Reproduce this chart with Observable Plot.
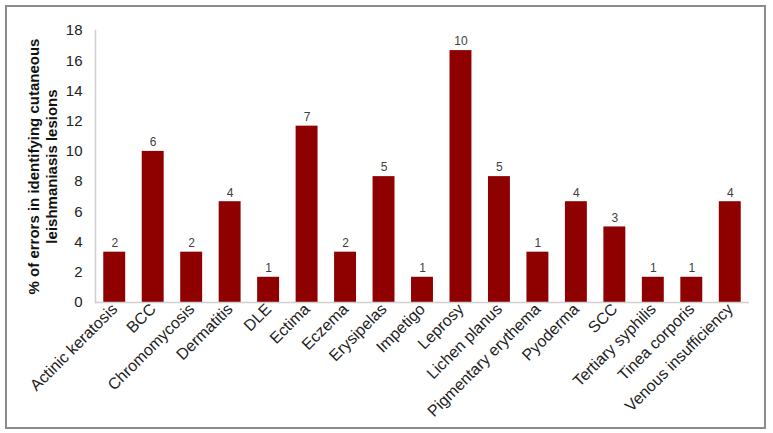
<!DOCTYPE html>
<html><head><meta charset="utf-8">
<script src="https://cdn.jsdelivr.net/npm/d3@7"></script>
<script src="https://cdn.jsdelivr.net/npm/@observablehq/plot@0.6"></script>
<style>
body{margin:0;background:#fff;}
#wrap{position:relative;width:773px;height:433px;}
#border{position:absolute;left:5px;top:5px;width:757px;height:420px;border:2px solid #8c8c8c;pointer-events:none;}
</style>
</head><body>
<div id="wrap"><div id="border"></div></div>
<script>
const categories = ["Actinic keratosis","BCC","Chromomycosis","Dermatitis","DLE","Ectima","Eczema","Erysipelas","Impetigo","Leprosy","Lichen planus","Pigmentary erythema","Pyoderma","SCC","Tertiary syphilis","Tinea corporis","Venous insufficiency"];
const percents = [3.33,10,3.33,6.67,1.67,11.67,3.33,8.33,1.67,16.67,8.33,3.33,6.67,5,1.67,1.67,6.67];
const counts = [2,6,2,4,1,7,2,5,1,10,5,1,4,3,1,1,4];
const yTicks = [0,2,4,6,8,10,12,14,16,18];
const yLabel = "% of errors in identifying cutaneous\nleishmaniasis lesions";

const data = categories.map((c,i)=>({cat:c, pct:percents[i], n:counts[i]}));

const chart = Plot.plot({
  width: 773, height: 433,
  marginLeft: 95, marginRight: 24, marginTop: 30, marginBottom: 131,
  style: {fontFamily: "'Liberation Sans', Arial, sans-serif", background: "transparent"},
  x: {domain: categories, paddingInner: 0.43, paddingOuter: 0.215, round: false, label: null},
  y: {domain: [0,18], label: null},
  marks: [
    Plot.frame({anchor: "left", stroke: "#d0d0d0", strokeWidth: 1.5}),
    Plot.barY(data, {x: "cat", y: "pct", fill: "#8f0000"}),
    Plot.ruleY([0], {stroke: "#d0d0d0", strokeWidth: 1.5}),
    Plot.text(data, {x: "cat", y: "pct", text: "n", dy: -9, fontSize: 12, fill: "#404040"}),
    Plot.axisY({ticks: yTicks, tickSize: 0, tickPadding: 13, fontSize: 15, fill: "#222", label: null}),
    Plot.axisX({tickSize: 0, tickPadding: 4, tickRotate: -45, fontSize: 16, fill: "#222", label: null}),
    Plot.text([yLabel], {frameAnchor: "left", textAnchor: "middle", rotate: -90, dx: -53, fontSize: 15, fontWeight: "bold", fill: "#111", lineHeight: 1.15})
  ]
});
document.getElementById("wrap").prepend(chart);
</script>
</body></html>
